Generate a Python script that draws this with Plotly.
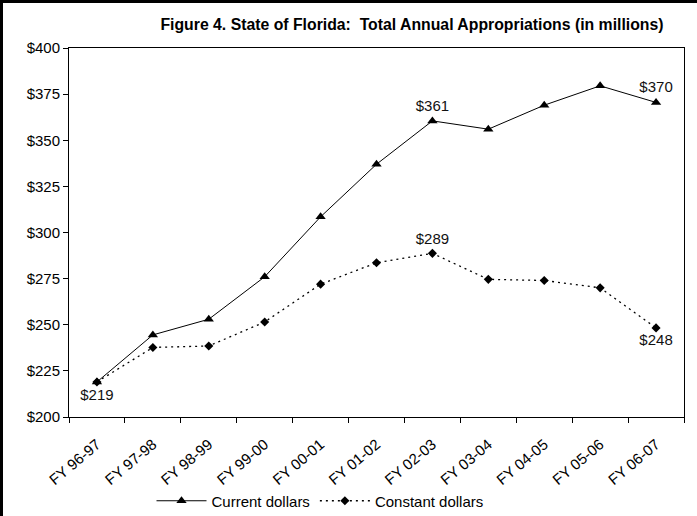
import plotly.graph_objects as go

categories = ["FY 96-97", "FY 97-98", "FY 98-99", "FY 99-00", "FY 00-01", "FY 01-02",
              "FY 02-03", "FY 03-04", "FY 04-05", "FY 05-06", "FY 06-07"]
current = [219, 244.5, 253, 276, 308.5, 337, 360.5, 356, 369, 379.5, 370.5]
constant = [219, 237.7, 238.5, 251.5, 272, 283.6, 288.7, 274.6, 274, 270, 248.3]
current_labels = ["$219", "", "", "", "", "", "$361", "", "", "", "$370"]
constant_labels = ["", "", "", "", "", "", "$289", "", "", "", "$248"]
current_textpos = ["bottom center"] + ["top center"] * 10
constant_textpos = ["top center"] * 10 + ["bottom center"]

W, H = 697, 516
L, R, T, B = 69, 684, 48, 417
FONT = "Liberation Sans, Arial, sans-serif"

fig = go.Figure()
fig.add_trace(go.Scatter(
    x=categories, y=current, name="Current dollars",
    mode="lines+markers+text", text=current_labels, textposition=current_textpos,
    textfont=dict(size=15, color="#111"),
    line=dict(color="black", width=1),
    marker=dict(symbol="triangle-up", size=9, color="black"),
))
fig.add_trace(go.Scatter(
    x=categories, y=constant, name="Constant dollars",
    mode="lines+markers+text", text=constant_labels, textposition=constant_textpos,
    textfont=dict(size=15, color="#111"),
    line=dict(color="black", width=1.3, dash="2px,4px"),
    marker=dict(symbol="diamond", size=7, color="black"),
))

pw, ph = R - L, B - T
def px(xp):
    return (xp - L) / pw
def py(yp):
    return (B - yp) / ph

fig.update_layout(
    width=W, height=H,
    margin=dict(l=L, r=W - R, t=T, b=H - B, autoexpand=False),
    paper_bgcolor="white", plot_bgcolor="white",
    font=dict(family=FONT, size=15, color="black"),
    title=dict(text="<b>Figure 4. State of Florida:  Total Annual Appropriations (in millions)</b>",
               xref="container", yref="container", x=412 / W, y=1 - 24 / H,
               xanchor="center", yanchor="middle", font=dict(size=15.8, family=FONT)),
    showlegend=True,
    legend=dict(orientation="h", x=px(320), y=py(501), xanchor="center", yanchor="middle",
                font=dict(size=15), itemwidth=50, tracegroupgap=0),
    xaxis=dict(type="category", range=[-0.5, 10.5], tickson="boundaries",
               ticks="outside", ticklen=5, tickcolor="black", tickangle=-40,
               ticklabelstandoff=12,
               showline=True, linecolor="black", linewidth=1, mirror=True,
               showgrid=False, zeroline=False, tickfont=dict(size=15)),
    yaxis=dict(range=[200, 400], dtick=25, tick0=200, tickprefix="$",
               ticks="outside", ticklen=5, tickcolor="black",
               showline=True, linecolor="black", linewidth=1, mirror=True,
               showgrid=False, zeroline=False, tickfont=dict(size=15)),
    shapes=[
        dict(type="line", xref="paper", yref="paper", x0=px(1.5), x1=px(1.5), y0=py(0), y1=py(H),
             line=dict(color="black", width=3)),
        dict(type="line", xref="paper", yref="paper", x0=px(0), x1=px(W), y0=py(1.5), y1=py(1.5),
             line=dict(color="black", width=3)),
    ],
)

fig.write_html("out.html")
